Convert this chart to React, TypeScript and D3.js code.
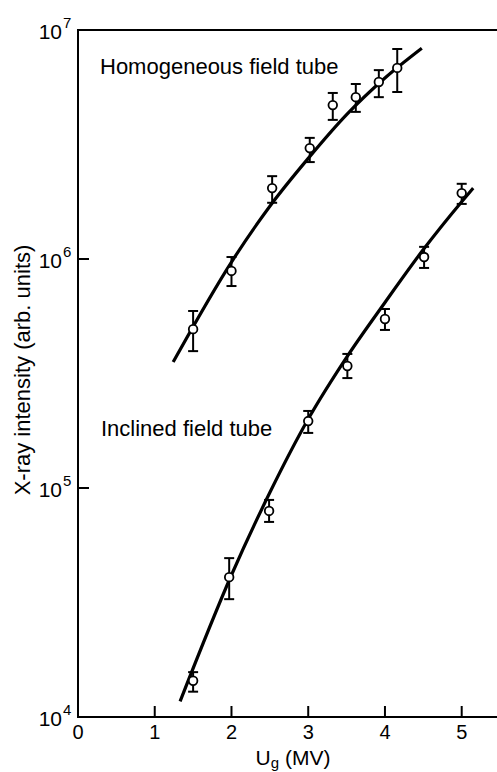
import * as d3 from 'd3';

// measured points, U_g in MV
const homU = [1.5, 2.0, 2.53, 3.02, 3.32, 3.62, 3.92, 4.16];
const homI = [4.94e5, 8.87e5, 2.04e6, 3.05e6, 4.70e6, 5.09e6, 5.93e6, 6.83e6];
const homLo = [3.96e5, 7.62e5, 1.76e6, 2.65e6, 4.05e6, 4.39e6, 5.09e6, 5.36e6];
const homHi = [5.93e5, 1.02e6, 2.30e6, 3.38e6, 5.31e6, 5.81e6, 6.68e6, 8.26e6];

const incU = [1.5, 1.97, 2.49, 3.0, 3.51, 4.0, 4.51, 5.0];
const incI = [1.44e4, 4.08e4, 7.94e4, 1.96e5, 3.41e5, 5.47e5, 1.02e6, 1.94e6];
const incLo = [1.29e4, 3.27e4, 7.11e4, 1.74e5, 3.02e5, 4.9e5, 9.14e5, 1.74e6];
const incHi = [1.57e4, 4.94e4, 8.87e4, 2.17e5, 3.85e5, 6.05e5, 1.13e6, 2.13e6];

// fitted curves
const homFitU = [1.24, 2.0, 2.5, 3.0, 3.5, 4.0, 4.48];
const homFitI = [3.55e5, 9.7e5, 1.7e6, 2.75e6, 4.27e6, 6.17e6, 8.32e6];
const incFitU = [1.33, 2.0, 2.5, 3.0, 3.5, 4.0, 4.5, 5.0, 5.15];
const incFitI = [1.17e4, 4.17e4, 9.55e4, 2.0e5, 3.72e5, 6.46e5, 1.1e6, 1.78e6, 2.04e6];

const xTicks = [0, 1, 2, 3, 4, 5];
const yTicks = [1e4, 1e5, 1e6, 1e7];

const W = 497;
const H = 772;
const font = 'Liberation Sans, Arial, sans-serif';

export default function App() {
  const x = d3.scaleLinear().domain([0, 5.46]).range([78, W]);
  const y = d3.scaleLog().domain([1e4, 1e7]).range([717, 30]);

  const line = d3
    .line<[number, number]>()
    .x((d) => x(d[0]))
    .y((d) => y(d[1]))
    .curve(d3.curveMonotoneX);

  const homFit = homFitU.map((u, i) => [u, homFitI[i]] as [number, number]);
  const incFit = incFitU.map((u, i) => [u, incFitI[i]] as [number, number]);

  const series = [
    { u: homU, v: homI, lo: homLo, hi: homHi },
    { u: incU, v: incI, lo: incLo, hi: incHi },
  ];

  const [x0, x1] = x.range();
  const [y0, y1] = y.range();

  return (
    <svg
      width={W}
      height={H}
      style={{ position: 'absolute', left: 0, top: 0, background: '#fff' }}
      fontFamily={font}
    >
      {/* axes */}
      <g stroke="#000" strokeWidth={2} fill="none">
        <line x1={x0} x2={x0} y1={y0 + 1} y2={y1 - 1} />
        <line x1={x0} x2={x1} y1={y0} y2={y0} />
        <line x1={x0} x2={x1} y1={y1} y2={y1} />
        {xTicks.slice(1).map((t) => (
          <line key={t} x1={x(t)} x2={x(t)} y1={y0} y2={y0 - 11} />
        ))}
        {yTicks.slice(1, -1).map((t) => (
          <line key={t} x1={x0} x2={x0 + 11} y1={y(t)} y2={y(t)} />
        ))}
      </g>

      {xTicks.map((t) => (
        <text key={t} x={x(t)} y={739} fontSize={20} textAnchor="middle">
          {t}
        </text>
      ))}
      {yTicks.map((t) => (
        <text key={t} x={62} y={y(t) + 9} fontSize={21} textAnchor="end">
          10
          <tspan x={63} dy={-11} fontSize={15} textAnchor="start">
            {Math.round(Math.log10(t))}
          </tspan>
        </text>
      ))}

      <text x={293} y={765} fontSize={21} textAnchor="middle">
        U<tspan dy={3} fontSize={15}>g</tspan>
        <tspan dy={-3}> (MV)</tspan>
      </text>
      <text
        transform={`translate(30, 370) rotate(-90)`}
        fontSize={22}
        textAnchor="middle"
      >
        X-ray intensity (arb. units)
      </text>

      <text x={100} y={74} fontSize={22}>
        Homogeneous field tube
      </text>
      <text x={101} y={436} fontSize={22}>
        Inclined field tube
      </text>

      {/* fits */}
      <path d={line(homFit) ?? ''} fill="none" stroke="#000" strokeWidth={3.2} />
      <path d={line(incFit) ?? ''} fill="none" stroke="#000" strokeWidth={3.2} />

      {/* points with error bars */}
      {series.map((s, si) =>
        s.u.map((u, i) => {
          const cx = x(u);
          return (
            <g key={`${si}-${i}`} stroke="#000">
              <line x1={cx} x2={cx} y1={y(s.lo[i])} y2={y(s.hi[i])} strokeWidth={2} />
              <line x1={cx - 5} x2={cx + 5} y1={y(s.lo[i])} y2={y(s.lo[i])} strokeWidth={2} />
              <line x1={cx - 5} x2={cx + 5} y1={y(s.hi[i])} y2={y(s.hi[i])} strokeWidth={2} />
              <circle cx={cx} cy={y(s.v[i])} r={4.3} fill="#fff" strokeWidth={1.8} />
            </g>
          );
        })
      )}
    </svg>
  );
}
